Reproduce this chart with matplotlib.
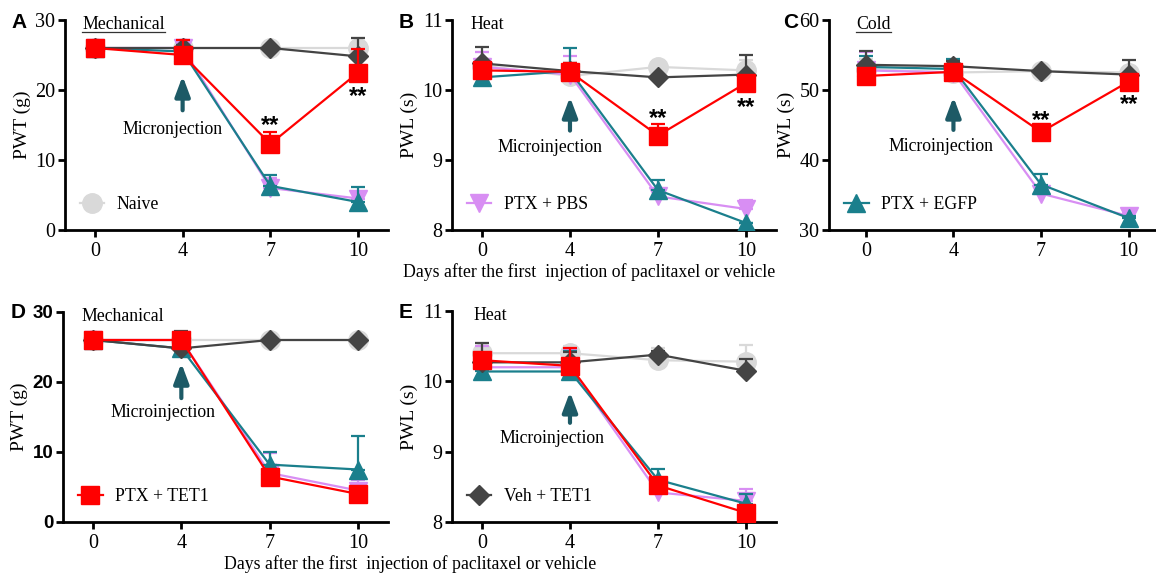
import numpy as np
import matplotlib
matplotlib.use('Agg')
import matplotlib.pyplot as plt
from matplotlib.lines import Line2D

plt.rcParams['font.family'] = ['Liberation Serif', 'DejaVu Serif']

days = ['0', '4', '7', '10']

# panel A: mechanical (PWT, g)
a_naive = [26, 26, 26, 26]
a_naive_err = [0, 0, 0, 1.5]
a_pbs = [26, 26, 6.0, 4.5]
a_pbs_err = [0, 1.2, 1.5, 1.0]
a_egfp = [26, 25.5, 6.3, 4.0]
a_egfp_err = [0, 1.0, 1.5, 2.2]
a_tet = [26, 25, 12.3, 22.5]
a_tet_err = [0, 2.2, 1.7, 3.3]
a_veh = [26, 26, 26, 24.8]
a_veh_err = [0, 0.5, 0, 2.6]

# panel B: heat (PWL, s)
b_naive = [10.35, 10.2, 10.33, 10.28]
b_naive_err = [0.2, 0.2, 0.05, 0.15]
b_pbs = [10.33, 10.22, 8.48, 8.3]
b_pbs_err = [0.22, 0.26, 0.08, 0.13]
b_egfp = [10.18, 10.27, 8.57, 8.1]
b_egfp_err = [0.2, 0.33, 0.15, 0.0]
b_tet = [10.28, 10.26, 9.35, 10.1]
b_tet_err = [0.1, 0.12, 0.17, 0.1]
b_veh = [10.38, 10.27, 10.18, 10.22]
b_veh_err = [0.24, 0.1, 0.0, 0.28]

# panel C: cold (PWL, s)
c_naive = [53.0, 52.5, 52.7, 52.5]
c_naive_err = [1.5, 0.5, 0.3, 0.5]
c_pbs = [52.8, 52.5, 35.2, 32.0]
c_pbs_err = [2.7, 1.0, 0.5, 0.5]
c_egfp = [53.3, 53.0, 36.5, 31.7]
c_egfp_err = [1.5, 1.5, 1.5, 0.3]
c_tet = [52.0, 52.6, 44.0, 51.2]
c_tet_err = [1.0, 0.8, 0.5, 0.6]
c_veh = [53.6, 53.4, 52.7, 52.2]
c_veh_err = [2.0, 0.8, 0.2, 2.1]

# panel D: mechanical (PWT, g)
d_naive = [26, 26, 26, 26]
d_naive_err = [0, 0.5, 0, 0]
d_pbs = [26, 26, 7.0, 4.5]
d_pbs_err = [0, 0.5, 2.8, 1.5]
d_egfp = [26, 24.8, 8.2, 7.5]
d_egfp_err = [0, 1.0, 1.8, 4.8]
d_tet = [26, 26, 6.5, 4.0]
d_tet_err = [0, 0.5, 0.5, 0.5]
d_veh = [26, 24.8, 26, 26]
d_veh_err = [0, 2.5, 0, 0]

# panel E: heat (PWL, s)
e_naive = [10.4, 10.4, 10.3, 10.28]
e_naive_err = [0.15, 0.1, 0.18, 0.24]
e_pbs = [10.2, 10.2, 8.42, 8.3]
e_pbs_err = [0.3, 0.25, 0.05, 0.17]
e_egfp = [10.14, 10.14, 8.6, 8.26]
e_egfp_err = [0.05, 0.29, 0.15, 0.14]
e_tet = [10.3, 10.22, 8.52, 8.13]
e_tet_err = [0.05, 0.26, 0.05, 0.05]
e_veh = [10.27, 10.27, 10.38, 10.15]
e_veh_err = [0.28, 0.15, 0.05, 0.17]

groups = ['Naive', 'PTX + PBS', 'PTX + EGFP', 'PTX + TET1', 'Veh + TET1']
colors = ['#d9d9d9', '#d88ef3', '#1a7f8c', '#ff0000', '#444444']
markers = ['o', 'v', '^', 's', 'D']
msizes = [14, 13, 13, 13, 10]
zorders = [3, 4, 5, 7, 6]

fig = plt.figure(figsize=(11.56, 5.78), dpi=100)
W, H = 1156, 578
FS = 12.8


def add_ax(l, r, t, b):
    return fig.add_axes([l / W, 1 - b / H, (r - l) / W, (b - t) / H])


def panel(ax, data, ylim, yticks, ylabel, title, letter, legend_idx,
          stars, inj_text, arrow, inj_xy, tx, bold_ticks=False):
    x = np.arange(4)
    for i, (vals, errs) in enumerate(data):
        ax.errorbar(x, vals, yerr=[np.zeros(4), errs], color=colors[i],
                    marker=markers[i], ms=msizes[i], lw=1.6, capsize=5,
                    capthick=1.6, elinewidth=1.6, zorder=zorders[i])
    ax.set_xlim(-0.34, 3.34)
    ax.set_ylim(*ylim)
    ax.set_xticks(x)
    ax.set_xticklabels(days)
    ax.set_yticks(yticks)
    for s in ['top', 'right']:
        ax.spines[s].set_visible(False)
    for s in ['left', 'bottom']:
        ax.spines[s].set_linewidth(2)
    ax.tick_params(width=2, length=5, labelsize=14.5)
    ax.tick_params(axis='y', pad=2)
    if bold_ticks:
        for lab in ax.get_yticklabels():
            lab.set_fontfamily('Liberation Sans')
            lab.set_fontweight('bold')
            lab.set_fontsize(13.5)
    ax.set_ylabel(ylabel, fontsize=14, labelpad=3)
    t = ax.text(tx, 0.98, title, transform=ax.transAxes, fontsize=FS,
                va='center', ha='left')
    fig.text(letter[1] / W, 1 - letter[2] / H, letter[0], fontsize=15,
             fontweight='bold', family='Liberation Sans', va='center', ha='left')
    h = Line2D([], [], color=colors[legend_idx], marker=markers[legend_idx],
               ms=msizes[legend_idx], lw=1.6)
    ax.legend([h], [groups[legend_idx]], loc='center left',
              bbox_to_anchor=(0.045, 0.12), frameon=False, fontsize=FS,
              handlelength=1.4, handletextpad=0.7, borderpad=0,
              borderaxespad=0)
    ax.annotate('', xy=(1, arrow[1]), xytext=(1, arrow[0]),
                arrowprops=dict(arrowstyle='-|>,head_width=0.45,head_length=1.2',
                                color='#1d5a66', lw=3, shrinkA=0, shrinkB=0,
                                mutation_scale=10))
    ax.text(inj_xy[0], inj_xy[1], inj_text, ha='left', va='center', fontsize=FS)
    for xi, yi in stars:
        ax.annotate('**', (xi, yi), xytext=(0, -3.5), textcoords='offset points',
                    ha='center', va='center', fontsize=17,
                    family='Liberation Sans', fontweight='bold')
    return t


def underline(t, ax):
    fig.canvas.draw()
    bb = t.get_window_extent().transformed(ax.transAxes.inverted())
    ax.plot([bb.x0, bb.x1], [bb.y0 + 0.005, bb.y0 + 0.005],
            transform=ax.transAxes, color='#333333', lw=0.9, clip_on=False)


axA = add_ax(65, 388, 20, 230)
tA = panel(axA, [(a_naive, a_naive_err), (a_pbs, a_pbs_err), (a_egfp, a_egfp_err),
                 (a_tet, a_tet_err), (a_veh, a_veh_err)],
           (0, 30), [0, 10, 20, 30], 'PWT (g)', 'Mechanical', ('A', 11, 22), 0,
           [(2, 15.6), (3, 19.7)], 'Micronjection', (17.1, 22.0), (0.32, 14.3),
           0.053)

axB = add_ax(452, 776, 20, 230)
panel(axB, [(b_naive, b_naive_err), (b_pbs, b_pbs_err), (b_egfp, b_egfp_err),
            (b_tet, b_tet_err), (b_veh, b_veh_err)],
      (8, 11), [8, 9, 10, 11], 'PWL (s)', 'Heat', ('B', 399, 22), 1,
      [(2, 9.66), (3, 9.82)], 'Microinjection', (9.42, 9.9), (0.18, 9.18), 0.056)

axC = add_ax(829, 1155, 20, 230)
tC = panel(axC, [(c_naive, c_naive_err), (c_pbs, c_pbs_err), (c_egfp, c_egfp_err),
                 (c_tet, c_tet_err), (c_veh, c_veh_err)],
           (30, 60), [30, 40, 50, 60], 'PWL (s)', 'Cold', ('C', 783, 22), 2,
           [(2, 46.3), (3, 48.6)], 'Microinjection', (44.3, 49.0), (0.26, 41.9),
           0.083)
axC.set_xlim(-0.42, 3.3)

axD = add_ax(63, 388, 312, 522)
panel(axD, [(d_naive, d_naive_err), (d_pbs, d_pbs_err), (d_egfp, d_egfp_err),
            (d_tet, d_tet_err), (d_veh, d_veh_err)],
      (0, 30), [0, 10, 20, 30], 'PWT (g)', 'Mechanical', ('D', 11, 313), 3,
      [], 'Microinjection', (17.7, 22.7), (0.2, 15.6), 0.058, bold_ticks=True)

axE = add_ax(452, 776, 311, 522)
panel(axE, [(e_naive, e_naive_err), (e_pbs, e_pbs_err), (e_egfp, e_egfp_err),
            (e_tet, e_tet_err), (e_veh, e_veh_err)],
      (8, 11), [8, 9, 10, 11], 'PWL (s)', 'Heat', ('E', 399, 313), 4,
      [], 'Microinjection', (9.41, 9.85), (0.2, 9.19), 0.065)

xlabel = 'Days after the first  injection of paclitaxel or vehicle'
fig.text(589 / W, 1 - 272 / H, xlabel, ha='center', va='center', fontsize=FS)
fig.text(410 / W, 1 - 564 / H, xlabel, ha='center', va='center', fontsize=FS)

underline(tA, axA)
underline(tC, axC)

fig.savefig('out.png', dpi=100)
